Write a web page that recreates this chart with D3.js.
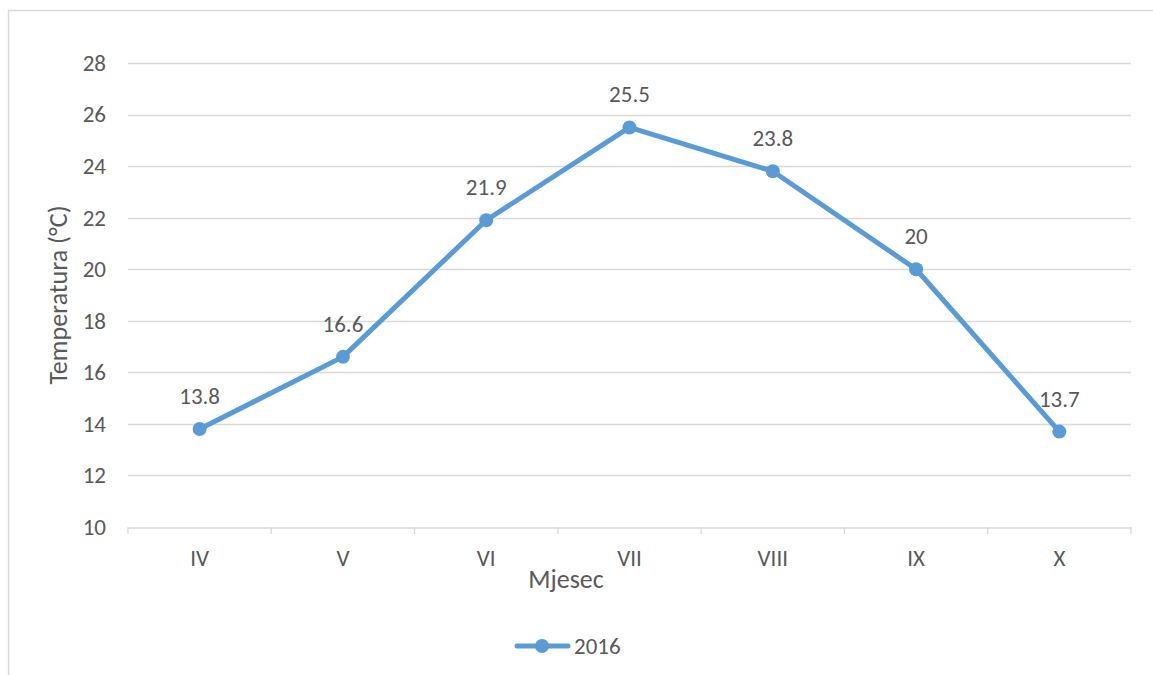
<!DOCTYPE html>
<html>
<head>
<meta charset="utf-8">
<script src="https://cdn.jsdelivr.net/npm/d3@7"></script>
<style>
  body { margin: 0; background: #fff; }
  text { font-family: Calibri, Carlito, "Open Sans", sans-serif; fill: #595959; }
</style>
</head>
<body>
<div id="chart"></div>
<script>
// data
var months = ["IV", "V", "VI", "VII", "VIII", "IX", "X"];
var temps = [13.8, 16.6, 21.9, 25.5, 23.8, 20, 13.7];
var yTicks = [10, 12, 14, 16, 18, 20, 22, 24, 26, 28];
var seriesName = "2016";

var width = 1153, height = 675;
var plot = {left: 128, right: 1131, top: 63, bottom: 527};
var lineColor = "#5B9BD5";

var svg = d3.select("#chart").append("svg")
  .attr("width", width)
  .attr("height", height);

// chart frame (only top + left visible)
svg.append("rect")
  .attr("x", 8.5).attr("y", 10.5)
  .attr("width", 1200).attr("height", 700)
  .attr("fill", "none")
  .attr("stroke", "#d9d9d9")
  .attr("stroke-width", 1.5);

var x = d3.scaleBand()
  .domain(months)
  .range([plot.left, plot.right]);

var y = d3.scaleLinear()
  .domain([10, 28])
  .range([plot.bottom, plot.top]);

// gridlines
svg.append("g")
  .selectAll("line")
  .data(yTicks.slice(1))
  .enter().append("line")
  .attr("x1", plot.left).attr("x2", plot.right)
  .attr("y1", function(d) { return Math.round(y(d)) + 0.5; })
  .attr("y2", function(d) { return Math.round(y(d)) + 0.5; })
  .attr("stroke", "#d9d9d9")
  .attr("stroke-width", 1.3);

// x axis
var xAxis = d3.axisBottom(x).tickSize(0);
var gx = svg.append("g")
  .attr("transform", "translate(0," + (Math.round(y(10)) + 0.5) + ")")
  .call(xAxis);
gx.select(".domain").attr("stroke", "#d9d9d9").attr("stroke-width", 1.3);
gx.selectAll("text")
  .attr("y", 38).attr("dy", 0)
  .style("font-size", "23px").attr("fill", "#595959");

// category dividers on x axis
svg.append("g")
  .selectAll("line")
  .data(d3.range(months.length + 1))
  .enter().append("line")
  .attr("x1", function(i) { return plot.left + i * x.step(); })
  .attr("x2", function(i) { return plot.left + i * x.step(); })
  .attr("y1", Math.round(y(10)))
  .attr("y2", Math.round(y(10)) + 7)
  .attr("stroke", "#d9d9d9")
  .attr("stroke-width", 1.3);

// y axis labels
var yAxis = d3.axisLeft(y).tickValues(yTicks).tickSize(0).tickPadding(22);
var gy = svg.append("g")
  .attr("transform", "translate(" + plot.left + ",0)")
  .call(yAxis);
gy.select(".domain").remove();
gy.selectAll("text").style("font-size", "23px").attr("fill", "#595959");

// axis titles
svg.append("text")
  .attr("transform", "translate(67,295) rotate(-90)")
  .attr("text-anchor", "middle")
  .style("font-size", "26px")
  .text("Temperatura (°C)");

svg.append("text")
  .attr("x", 566).attr("y", 588)
  .attr("text-anchor", "middle")
  .style("font-size", "26px")
  .text("Mjesec");

// line
var line = d3.line()
  .x(function(d, i) { return x(months[i]) + x.bandwidth() / 2; })
  .y(function(d) { return y(d); });

svg.append("path")
  .datum(temps)
  .attr("d", line)
  .attr("fill", "none")
  .attr("stroke", lineColor)
  .attr("stroke-width", 5)
  .attr("stroke-linejoin", "round")
  .attr("stroke-linecap", "round");

svg.append("g")
  .selectAll("circle")
  .data(temps)
  .enter().append("circle")
  .attr("cx", function(d, i) { return x(months[i]) + x.bandwidth() / 2; })
  .attr("cy", function(d) { return y(d); })
  .attr("r", 7)
  .attr("fill", lineColor);

// data labels
svg.append("g")
  .selectAll("text")
  .data(temps)
  .enter().append("text")
  .attr("x", function(d, i) { return x(months[i]) + x.bandwidth() / 2; })
  .attr("y", function(d) { return y(d) - 25; })
  .attr("text-anchor", "middle")
  .style("font-size", "23px")
  .attr("fill", "#404040")
  .text(function(d) { return d; });

// legend
var lg = svg.append("g").attr("transform", "translate(0,646)");
lg.append("line")
  .attr("x1", 517).attr("x2", 568)
  .attr("y1", 0).attr("y2", 0)
  .attr("stroke", lineColor)
  .attr("stroke-width", 5)
  .attr("stroke-linecap", "round");
lg.append("circle")
  .attr("cx", 542).attr("cy", 0).attr("r", 7)
  .attr("fill", lineColor);
lg.append("text")
  .attr("x", 574).attr("y", 8)
  .style("font-size", "23px")
  .text(seriesName);
</script>
</body>
</html>
